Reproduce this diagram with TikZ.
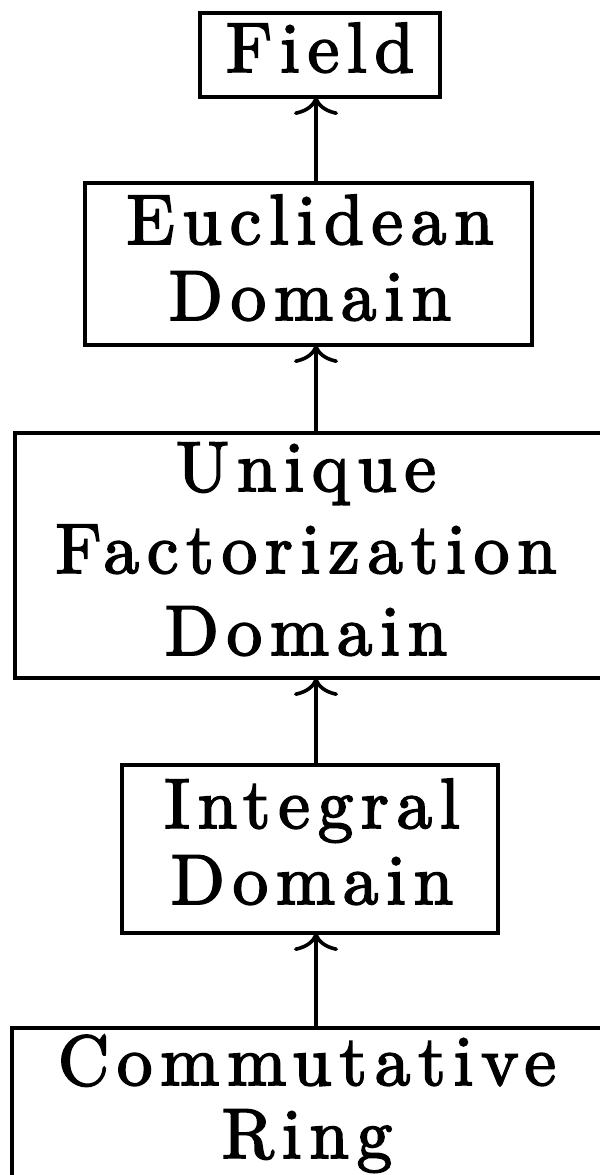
\documentclass[tikz,border=0pt]{standalone}
\usepackage{fontspec}
\usetikzlibrary{arrows.meta}
\newfontfamily\labelfont{lmroman10-regular.otf}[LetterSpace=11, FakeBold=2.5]
\tikzset{
  frame/.style={draw, line width=2pt, inner sep=0pt, outer sep=0pt},
  word/.style={inner sep=0pt, anchor=base,
    font=\labelfont\fontsize{35.5}{37.5}\selectfont},
  conn/.style={line width=1.8pt, -{To[length=9pt,width=22pt,line width=1.8pt]}}
}
\begin{document}
\begin{tikzpicture}[x=0.5pt,y=-0.5pt]
  \useasboundingbox (0,0) rectangle (600,1175);
  \clip (0,0) rectangle (600,1175);

  % boxes
  \node[frame, minimum width=120pt, minimum height=42pt]   (field) at (320,55)     {};
  \node[frame, minimum width=223.5pt, minimum height=81pt] (eucl)  at (308.5,264)  {};
  \node[frame, minimum width=312.5pt, minimum height=122.5pt] (ufd) at (327.5,555.5) {};
  \node[frame, minimum width=188pt, minimum height=84pt]   (integ) at (310,849)    {};
  \node[frame, minimum width=314pt, minimum height=86pt]   (comm)  at (326,1114)   {};

  % labels, one node per printed line
  \node[word] (field-1) at (320,72)   {Field};
  \node[word] (eucl-1)  at (310,244)  {Euclidean};
  \node[word] (eucl-2)  at (310,320)  {Domain};
  \node[word] (ufd-1)   at (306,491)  {Unique};
  \node[word] (ufd-2)   at (306,573)  {Factorization};
  \node[word] (ufd-3)   at (306,655)  {Domain};
  \node[word] (integ-1) at (312,828)  {Integral};
  \node[word] (integ-2) at (312,904)  {Domain};
  \node[word] (comm-1)  at (307,1085) {Commutative};
  \node[word] (comm-2)  at (307,1158) {Ring};

  % vertical axis of the arrows
  \coordinate (axis) at (316,0);
  \draw[conn] (eucl.north  -| axis) -- (field.south -| axis);
  \draw[conn] (ufd.north   -| axis) -- (eucl.south  -| axis);
  \draw[conn] (integ.north -| axis) -- (ufd.south   -| axis);
  \draw[conn] (comm.north  -| axis) -- (integ.south -| axis);
\end{tikzpicture}
\end{document}
